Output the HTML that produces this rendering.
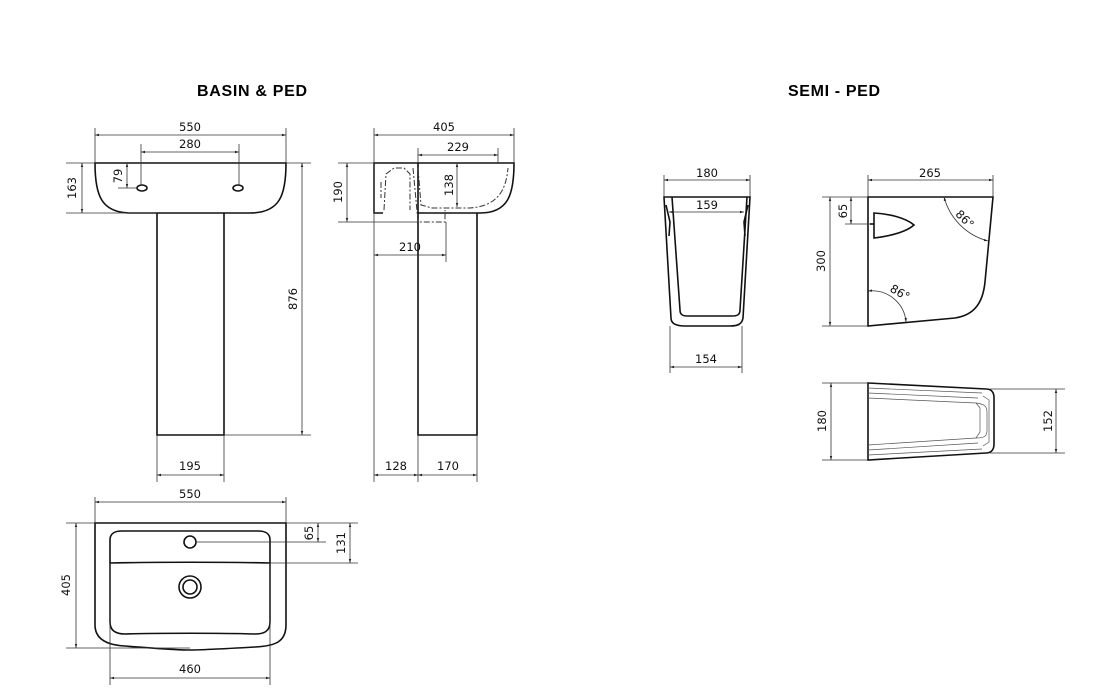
<!DOCTYPE html>
<html><head><meta charset="utf-8"><style>
html,body{margin:0;padding:0;background:#fff;}
svg{display:block;}
text{font-family:"DejaVu Sans","Liberation Sans",sans-serif;font-size:11.5px;fill:#111;}
.t{font-family:"Liberation Sans",sans-serif;font-weight:bold;font-size:16px;fill:#000;}
.o{stroke:#111;stroke-width:1.6;fill:none;}
.d{stroke:#333;stroke-width:0.8;fill:none;}
.h{stroke:#333;stroke-width:1;fill:none;stroke-dasharray:6 2 2 2;}
.th{stroke:#555;stroke-width:0.7;fill:none;}
</style></head><body>
<svg width="1111" height="700" viewBox="0 0 1111 700" xmlns="http://www.w3.org/2000/svg">
<defs>
<marker id="a" viewBox="0 0 10 10" refX="10" refY="5" markerWidth="7" markerHeight="5" orient="auto-start-reverse"><path d="M0,2 L10,5 L0,8 z" fill="#222"/></marker>
</defs>
<text class="t" x="197" y="96" textLength="110">BASIN &amp; PED</text>
<text class="t" x="788" y="96" textLength="92">SEMI - PED</text>

<!-- FRONT BASIN & PED -->
<path class="o" d="M95,163 L286,163 C286,195 280,213 250,213 L131,213 C101,213 95,195 95,163 Z"/>
<path class="o" d="M157,213 L157,435 L224,435 L224,213"/>
<ellipse class="o" cx="142" cy="188" rx="5" ry="3"/>
<ellipse class="o" cx="238" cy="188" rx="5" ry="3"/>
<line class="d" x1="95" y1="163" x2="95" y2="128"/><line class="d" x1="286" y1="163" x2="286" y2="128"/>
<line class="d" x1="95" y1="135" x2="286" y2="135" marker-start="url(#a)" marker-end="url(#a)"/>
<text x="190" y="131" text-anchor="middle">550</text>
<line class="d" x1="141" y1="185" x2="141" y2="144"/><line class="d" x1="239" y1="185" x2="239" y2="144"/>
<line class="d" x1="141" y1="152" x2="239" y2="152" marker-start="url(#a)" marker-end="url(#a)"/>
<text x="190" y="148" text-anchor="middle">280</text>
<line class="d" x1="66" y1="163" x2="95" y2="163"/><line class="d" x1="66" y1="213" x2="157" y2="213"/>
<line class="d" x1="82" y1="163" x2="82" y2="213" marker-start="url(#a)" marker-end="url(#a)"/>
<text transform="translate(76,188) rotate(-90)" text-anchor="middle">163</text>
<line class="d" x1="118" y1="188" x2="137" y2="188"/>
<line class="d" x1="127" y1="163" x2="127" y2="188" marker-start="url(#a)" marker-end="url(#a)"/>
<text transform="translate(122,176) rotate(-90)" text-anchor="middle">79</text>
<line class="d" x1="286" y1="163" x2="311" y2="163"/><line class="d" x1="224" y1="435" x2="311" y2="435"/>
<line class="d" x1="302" y1="163" x2="302" y2="435" marker-start="url(#a)" marker-end="url(#a)"/>
<text transform="translate(297,299) rotate(-90)" text-anchor="middle">876</text>
<line class="d" x1="157" y1="435" x2="157" y2="482"/><line class="d" x1="224" y1="435" x2="224" y2="482"/>
<line class="d" x1="157" y1="475" x2="224" y2="475" marker-start="url(#a)" marker-end="url(#a)"/>
<text x="190" y="470" text-anchor="middle">195</text>

<!-- SIDE BASIN & PED -->
<path class="o" d="M383,213 L374,213 L374,163 L514,163 C514,195 508,213 480,213 L418,213"/>
<path class="o" d="M418,163 L418,435 L477,435 L477,213"/>
<path class="h" d="M384,210 L386,174 L394,168 L404,168 L410,174 L410,210"/>
<path class="h" d="M381,182 L381,198"/>
<path class="h" d="M413,168 L418,222 L445,222 L445,210"/>
<path class="h" d="M418,168 L421,205 L432,208 L470,208 C498,206 506,190 508,168"/>
<line class="d" x1="374" y1="163" x2="374" y2="482"/><line class="d" x1="514" y1="163" x2="514" y2="128"/><line class="d" x1="374" y1="128" x2="374" y2="163"/>
<line class="d" x1="374" y1="135" x2="514" y2="135" marker-start="url(#a)" marker-end="url(#a)"/>
<text x="444" y="131" text-anchor="middle">405</text>
<line class="d" x1="418" y1="148" x2="418" y2="163"/><line class="d" x1="498" y1="148" x2="498" y2="163"/>
<line class="d" x1="418" y1="155" x2="498" y2="155" marker-start="url(#a)" marker-end="url(#a)"/>
<text x="458" y="151" text-anchor="middle">229</text>
<line class="d" x1="338" y1="163" x2="374" y2="163"/><line class="d" x1="338" y1="222" x2="418" y2="222"/>
<line class="d" x1="347" y1="163" x2="347" y2="222" marker-start="url(#a)" marker-end="url(#a)"/>
<text transform="translate(342,192) rotate(-90)" text-anchor="middle">190</text>
<line class="d" x1="457" y1="163" x2="457" y2="207" marker-start="url(#a)" marker-end="url(#a)"/>
<text transform="translate(453,185) rotate(-90)" text-anchor="middle">138</text>
<line class="d" x1="446" y1="222" x2="446" y2="262"/>
<line class="d" x1="374" y1="255" x2="446" y2="255" marker-start="url(#a)" marker-end="url(#a)"/>
<text x="410" y="251" text-anchor="middle">210</text>
<line class="d" x1="418" y1="435" x2="418" y2="482"/><line class="d" x1="477" y1="435" x2="477" y2="482"/>
<line class="d" x1="374" y1="475" x2="418" y2="475" marker-start="url(#a)" marker-end="url(#a)"/>
<line class="d" x1="418" y1="475" x2="477" y2="475" marker-start="url(#a)" marker-end="url(#a)"/>
<text x="396" y="470" text-anchor="middle">128</text>
<text x="448" y="470" text-anchor="middle">170</text>

<!-- TOP VIEW -->
<path class="o" d="M95,523 L286,523 L286,625 C286,642 275,646 255,647 C220,649 200,650 190,650 C175,650 150,648 125,646 C105,645 95,638 95,625 Z" stroke-width="1.2"/>
<path class="o" d="M110,563 L110,540 C110,533 115,531 122,531 L258,531 C265,531 270,533 270,540 L270,563" stroke-width="1.1"/>
<path class="o" d="M110,563 C150,562 230,562 270,563 L270,622 C270,632 263,634 255,634 C220,633 160,633 125,634 C115,634 110,630 110,622 Z" stroke-width="1.1"/>
<circle class="o" cx="190" cy="542" r="6" stroke-width="1.1"/>
<circle class="o" cx="190" cy="587" r="11" stroke-width="1.1"/>
<circle class="o" cx="190" cy="587" r="7" stroke-width="1.1"/>
<line class="d" x1="95" y1="497" x2="95" y2="523"/><line class="d" x1="286" y1="497" x2="286" y2="523"/>
<line class="d" x1="95" y1="502" x2="286" y2="502" marker-start="url(#a)" marker-end="url(#a)"/>
<text x="190" y="498" text-anchor="middle">550</text>
<line class="d" x1="66" y1="523" x2="95" y2="523"/><line class="d" x1="66" y1="648" x2="190" y2="648"/>
<line class="d" x1="76" y1="523" x2="76" y2="648" marker-start="url(#a)" marker-end="url(#a)"/>
<text transform="translate(70,585) rotate(-90)" text-anchor="middle">405</text>
<line class="d" x1="286" y1="523" x2="358" y2="523"/><line class="d" x1="196" y1="542" x2="326" y2="542"/><line class="d" x1="270" y1="563" x2="358" y2="563"/>
<line class="d" x1="318" y1="523" x2="318" y2="542" marker-start="url(#a)" marker-end="url(#a)"/>
<text transform="translate(313,533) rotate(-90)" text-anchor="middle">65</text>
<line class="d" x1="350" y1="523" x2="350" y2="563" marker-start="url(#a)" marker-end="url(#a)"/>
<text transform="translate(345,543) rotate(-90)" text-anchor="middle">131</text>
<line class="d" x1="110" y1="563" x2="110" y2="685"/><line class="d" x1="270" y1="563" x2="270" y2="685"/>
<line class="d" x1="110" y1="678" x2="270" y2="678" marker-start="url(#a)" marker-end="url(#a)"/>
<text x="190" y="673" text-anchor="middle">460</text>

<!-- SEMI PED FRONT -->
<path class="o" d="M664,197 L750,197 L743,318 C742,324 738,326 730,326 L685,326 C677,326 671,324 671,318 Z" stroke-width="1.3"/>
<path class="o" d="M672,197 L680,310 C680,315 683,316 688,316 L732,316 C737,316 740,315 740,310 L747,197" stroke-width="1"/>
<path class="o" d="M666,205 L670,222 L669,236 M748,205 L744,222 L745,236" stroke-width="1"/>
<line class="d" x1="664" y1="175" x2="664" y2="197"/><line class="d" x1="750" y1="175" x2="750" y2="197"/>
<line class="d" x1="664" y1="180" x2="750" y2="180" marker-start="url(#a)" marker-end="url(#a)"/>
<text x="707" y="177" text-anchor="middle">180</text>
<line class="d" x1="669" y1="212" x2="744" y2="212" marker-start="url(#a)" marker-end="url(#a)"/>
<text x="707" y="209" text-anchor="middle">159</text>
<line class="d" x1="670" y1="326" x2="670" y2="373"/><line class="d" x1="742" y1="326" x2="742" y2="373"/>
<line class="d" x1="670" y1="367" x2="742" y2="367" marker-start="url(#a)" marker-end="url(#a)"/>
<text x="706" y="363" text-anchor="middle">154</text>

<!-- SEMI PED SIDE -->
<path class="o" d="M868,197 L993,197 L985,282 C983,302 975,315 955,318 L868,326 Z" stroke-width="1.4"/>
<path class="o" d="M874,213 L874,238 C890,236 906,232 914,225 C906,218 890,214 874,213 Z" stroke-width="1.1"/>
<line class="o" x1="870" y1="224" x2="874" y2="224" stroke-width="3"/>
<path class="d" d="M944,197 A62,62 0 0 0 988,241" marker-start="url(#a)" marker-end="url(#a)"/>
<path class="d" d="M868,291 A34,34 0 0 1 906,322" marker-start="url(#a)" marker-end="url(#a)"/>
<text transform="translate(962,222) rotate(45)" text-anchor="middle" font-size="10">86°</text>
<text transform="translate(898,296) rotate(30)" text-anchor="middle" font-size="10">86°</text>
<line class="d" x1="868" y1="175" x2="868" y2="197"/><line class="d" x1="993" y1="175" x2="993" y2="197"/>
<line class="d" x1="868" y1="180" x2="993" y2="180" marker-start="url(#a)" marker-end="url(#a)"/>
<text x="930" y="177" text-anchor="middle">265</text>
<line class="d" x1="822" y1="197" x2="868" y2="197"/><line class="d" x1="822" y1="326" x2="868" y2="326"/>
<line class="d" x1="830" y1="197" x2="830" y2="326" marker-start="url(#a)" marker-end="url(#a)"/>
<text transform="translate(825,261) rotate(-90)" text-anchor="middle">300</text>
<line class="d" x1="845" y1="224" x2="870" y2="224"/>
<line class="d" x1="851" y1="197" x2="851" y2="224" marker-start="url(#a)" marker-end="url(#a)"/>
<text transform="translate(847,211) rotate(-90)" text-anchor="middle">65</text>

<!-- SEMI PED PLAN -->
<path class="o" d="M868,383 L986,389 C992,389 994,393 994,398 L994,444 C994,450 991,453 986,453 L868,460 Z" stroke-width="1.4"/>
<path class="th" d="M868,388 L982,393 M868,393 L978,398 M868,398 L976,403 C985,404 987,407 987,412 L987,430 C987,436 985,438 976,438 L868,445 M868,450 L978,443 M868,455 L982,449"/>
<path class="th" d="M983,396 L989,400 L989,442 L983,446 M976,403 L980,408 L980,432 L976,438"/>
<line class="d" x1="822" y1="383" x2="868" y2="383"/><line class="d" x1="822" y1="460" x2="868" y2="460"/>
<line class="d" x1="831" y1="383" x2="831" y2="460" marker-start="url(#a)" marker-end="url(#a)"/>
<text transform="translate(826,421) rotate(-90)" text-anchor="middle">180</text>
<line class="d" x1="990" y1="389" x2="1065" y2="389"/><line class="d" x1="990" y1="453" x2="1065" y2="453"/>
<line class="d" x1="1056" y1="389" x2="1056" y2="453" marker-start="url(#a)" marker-end="url(#a)"/>
<text transform="translate(1052,421) rotate(-90)" text-anchor="middle">152</text>
</svg>
</body></html>
